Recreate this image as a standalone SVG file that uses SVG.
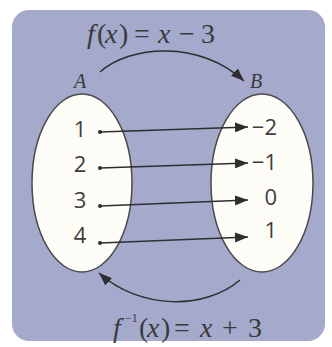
<svg xmlns="http://www.w3.org/2000/svg" width="332" height="347" viewBox="0 0 332 347">
<style>
.num{font-family:"Open Sans","Noto Sans",sans-serif;font-size:22px;fill:#3e3e3e}
.math{font-family:"Liberation Serif",serif;font-size:28px;fill:#3a3a3a}
.it{font-style:italic}
.lab{font-family:"Liberation Serif",serif;font-style:italic;font-size:20px;fill:#3a3a3a;text-anchor:middle}
.set{fill:#fdfcf7;stroke:#4a4a4a;stroke-width:1.5}
.ar{fill:none;stroke:#2e2e2e;stroke-width:1.5}
</style>
<defs>
<marker id="ah" markerUnits="userSpaceOnUse" markerWidth="13" markerHeight="10" refX="13" refY="5" orient="auto">
<path d="M0,0 L13,5 L0,10 Z" fill="#2e2e2e"/>
</marker>
</defs>
<rect x="12" y="10" width="313" height="331" rx="17" fill="#a5a9cc"/>
<g id="setA">
<ellipse class="set" cx="82" cy="183" rx="50" ry="89"/>
<text class="lab" x="80" y="88">A</text>
<text class="num" x="80" y="137" text-anchor="middle">1</text>
<text class="num" x="80" y="172" text-anchor="middle">2</text>
<text class="num" x="80" y="208" text-anchor="middle">3</text>
<text class="num" x="80" y="243" text-anchor="middle">4</text>
</g>
<g id="setB">
<ellipse class="set" cx="262" cy="183" rx="51" ry="89"/>
<text class="lab" x="256" y="88">B</text>
<text class="num" x="277" y="135" text-anchor="end">−2</text>
<text class="num" x="277" y="170" text-anchor="end">−1</text>
<text class="num" x="277" y="205" text-anchor="end">0</text>
<text class="num" x="277" y="238" text-anchor="end">1</text>
</g>
<g id="connectors">
<g fill="#2e2e2e">
<circle cx="100" cy="132" r="2"/>
<circle cx="100" cy="168" r="2"/>
<circle cx="100" cy="206" r="2"/>
<circle cx="100" cy="243" r="2"/>
</g>
<line class="ar" x1="100" y1="132" x2="248" y2="127" marker-end="url(#ah)"/>
<line class="ar" x1="100" y1="168" x2="248" y2="163" marker-end="url(#ah)"/>
<line class="ar" x1="100" y1="206" x2="248" y2="200" marker-end="url(#ah)"/>
<line class="ar" x1="100" y1="243" x2="248" y2="237" marker-end="url(#ah)"/>
<path class="ar" d="M100,72 C130,45 200,40 244,81" marker-end="url(#ah)"/>
<path class="ar" d="M240,280 C205,310 140,310 99,273" marker-end="url(#ah)"/>
</g>
<g id="f-label">
<text class="math" y="43"><tspan class="it" x="87">f</tspan><tspan x="97">(</tspan><tspan class="it" x="105">x</tspan><tspan x="119">)</tspan><tspan x="134">=</tspan><tspan class="it" x="158">x</tspan><tspan x="179">−</tspan><tspan x="201">3</tspan></text>
</g>
<g id="finv-label">
<text class="math" y="337" font-size="27"><tspan class="it" x="113">f</tspan><tspan x="125" y="322" font-size="12">−1</tspan><tspan x="139" y="337">(</tspan><tspan class="it" x="147">x</tspan><tspan x="161">)</tspan><tspan x="174">=</tspan><tspan class="it" x="200">x</tspan><tspan x="222">+</tspan><tspan x="248">3</tspan></text>
</g>
</svg>
